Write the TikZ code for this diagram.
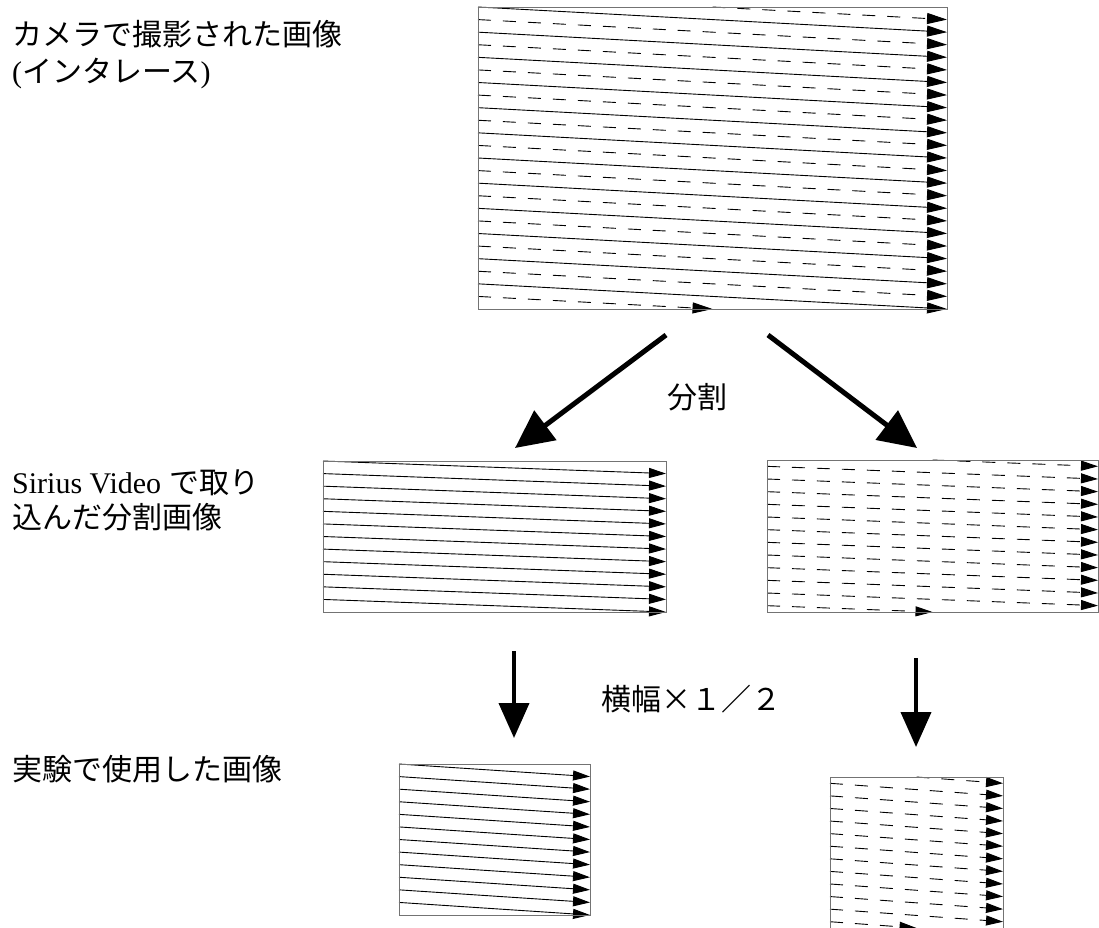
\documentclass[tikz,border=0pt]{standalone}
\usepackage{fontspec}
\setmainfont{Liberation Serif}
\newfontfamily\jp{Noto Sans CJK JP}
\usetikzlibrary{arrows.meta}

\tikzset{
  scan/.style={line width=0.9pt, black, -{Triangle[length=17pt,width=10pt]}},
  bigscan/.style={-{Triangle[length=20pt,width=11pt]}},
  dashline/.style={dash pattern=on 13pt off 12pt},
  boxline/.style={draw=black!55, line width=1pt},
  bigarrow/.style={line width=5pt, -{Triangle[length=38pt,width=36pt]}},
  downarrow/.style={line width=4pt, -{Triangle[length=35pt,width=30pt]}},
  lbl/.style={anchor=base west, inner sep=0pt, font=\fontsize{30}{36}\selectfont}
}

% x0 y0 W H n [extra style]
\newcommand{\solidfield}[6]{%
  \pgfmathsetmacro{\scanp}{#4/#5}%
  \foreach \k in {1,...,#5} {
    \draw[scan,#6] ({#1},{#2+(\k-1)*\scanp}) -- ({#1+#3},{#2+\k*\scanp});
  }%
}
\newcommand{\dashfield}[6]{%
  \pgfmathsetmacro{\scanp}{#4/#5}%
  \pgfmathtruncatemacro{\scanm}{#5-1}%
  \draw[scan,dashline,#6] ({#1+#3/2},{#2}) -- ({#1+#3},{#2+\scanp/2});
  \foreach \k in {1,...,\scanm} {
    \draw[scan,dashline,#6] ({#1},{#2+(\k-0.5)*\scanp}) -- ({#1+#3},{#2+(\k+0.5)*\scanp});
  }%
  \draw[scan,dashline,#6] ({#1},{#2+(#5-0.5)*\scanp}) -- ({#1+#3/2},{#2+#4});
}

\begin{document}
\begin{tikzpicture}[x=1pt,y=-1pt]
\useasboundingbox (0,0) rectangle (1099,927);
\fill[white] (0,0) rectangle (1099,927);
\clip (0,0) rectangle (1099,927);

% top interlaced image
\solidfield{478}{7}{469}{302}{12}{bigscan}
\dashfield{478}{7}{469}{302}{12}{bigscan}
\draw[boxline] (478,7) rectangle (947,309);

% split images
\solidfield{323}{461}{343}{151}{12}{}
\draw[boxline] (323,461) rectangle (666,612);
\dashfield{767}{460}{331}{152}{12}{}
\draw[boxline] (767,460) rectangle (1098,612);

% halved images
\solidfield{399}{764}{191}{151}{12}{}
\draw[boxline] (399,764) rectangle (590,915);
\dashfield{830}{777}{173}{151}{12}{}
\draw[boxline] (830,777) rectangle (1003,928);

% arrows
\coordinate (a1s) at (666,335);
\coordinate (a1e) at (515,448);
\coordinate (a2s) at (768,335);
\coordinate (a2e) at (917,448);
\coordinate (v1s) at (514,651);
\coordinate (v1e) at (514,738);
\coordinate (v2s) at (916,658);
\coordinate (v2e) at (916,747);
\draw[bigarrow] (a1s) -- (a1e);
\draw[bigarrow] (a2s) -- (a2e);
\draw[downarrow] (v1s) -- (v1e);
\draw[downarrow] (v2s) -- (v2e);

% labels
\node[lbl] (t1) at (12,45) {\jp カメラで撮影された画像};
\node[lbl] (t2) at (12,82) {({\jp インタレース})};
\node[lbl] (s1) at (12,493) {Sirius Video\hspace{8pt}{\jp で取り}};
\node[lbl] (s2) at (12,528) {\jp 込んだ分割画像};
\node[lbl] (d1) at (667,408) {\jp 分割};
\node[lbl] (h1) at (601,710) {\jp 横幅\makebox[30pt]{×}１／２};
\node[lbl] (e1) at (12,780) {\jp 実験で使用した画像};
\end{tikzpicture}
\end{document}
